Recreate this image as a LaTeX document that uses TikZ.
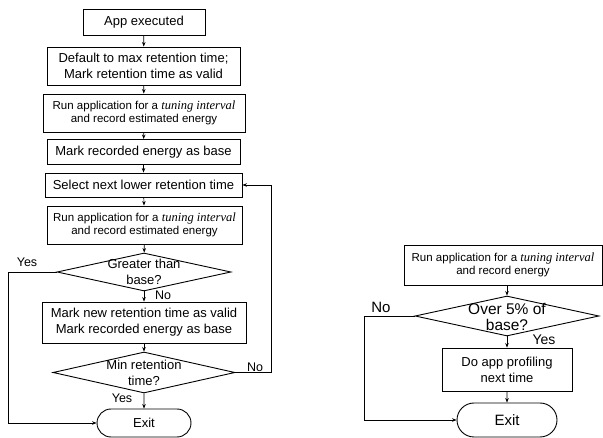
\documentclass[tikz,border=0pt]{standalone}
\usepackage{fontspec}
\setmainfont{Liberation Sans}
\newfontfamily\tiserif{Liberation Serif}
\usetikzlibrary{shapes.geometric,shapes.misc,arrows.meta}
\newcommand{\tuning}{{\tiserif\itshape\fontsize{12.5}{13}\selectfont tuning interval}}
\begin{document}
\begin{tikzpicture}[x=1pt,y=-1pt,
  box/.style={draw, line width=0.9pt, rectangle, inner sep=0pt, align=center},
  dia/.style={draw, line width=0.9pt, diamond, inner sep=0pt},
  term/.style={draw, line width=0.9pt, rounded rectangle, inner sep=0pt},
  txt/.style={inner sep=0pt, align=center},
  arr/.style={-{Stealth[length=4.5pt,width=3.5pt]}, line width=0.7pt},
  ln/.style={line width=0.7pt},
  big/.style={font=\fontsize{13}{16}\selectfont},
  small/.style={font=\fontsize{11.5}{13}\selectfont},
  huge/.style={font=\fontsize{15.5}{16}\selectfont}]
\useasboundingbox (0,0) rectangle (603,438);
% ---------- left chart ----------
\node[box,big,minimum width=122,minimum height=26] (app) at (144,22) {App executed};
\node[box,big,minimum width=193,minimum height=38] (def) at (143.5,66) {Default to max retention time;\\Mark retention time as valid};
\node[box,small,minimum width=202,minimum height=38] (run1) at (144,113) {Run application for a \tuning\\and record estimated energy};
\node[box,big,minimum width=193,minimum height=25] (mb) at (143.5,152) {Mark recorded energy as base};
\node[box,big,minimum width=197,minimum height=24] (sel) at (143.5,185) {Select next lower retention time};
\node[box,small,minimum width=195,minimum height=38] (run2) at (144.5,225) {Run application for a \tuning\\and record estimated energy};
\node[dia,minimum width=174,minimum height=38] (d1) at (144,272) {};
\node[txt,big] (d1t) at (144,272) {Greater than\\base?};
\node[box,big,minimum width=204,minimum height=41] (mn) at (144,322.5) {Mark new retention time as valid\\Mark recorded energy as base};
\node[dia,minimum width=182,minimum height=41] (d2) at (144,372.5) {};
\node[txt,big] (d2t) at (144,372.5) {Min retention\\time?};
\node[term,big,minimum width=94,minimum height=28] (ex1) at (144,423) {Exit};

\draw[arr] (app) -- (def);
\draw[arr] (def) -- (run1);
\draw[arr] (run1) -- (mb);
\draw[arr] (mb) -- (sel);
\draw[arr] (sel) -- (run2);
\draw[arr] (run2) -- (d1);
\draw[arr] (d1) -- (mn);
\draw[arr] (mn) -- (d2);
\draw[arr] (d2) -- (ex1);
\coordinate (yl) at (8,272);
\coordinate (nr) at (271,372.5);
\draw[arr] (d1.west) -- (yl) |- (ex1.west);
\draw[arr] (d2.east) -- (nr) |- (sel.east);
\node[txt,font=\fontsize{12.5}{13}\selectfont] (y1) at (27,262) {Yes};
\node[txt,font=\fontsize{12.5}{13}\selectfont] (n1) at (163,295) {No};
\node[txt,font=\fontsize{12.5}{13}\selectfont] (n2) at (255,367) {No};
\node[txt,font=\fontsize{12.5}{13}\selectfont] (y2) at (122,398) {Yes};
% ---------- right chart ----------
\node[box,small,minimum width=198,minimum height=40] (run3) at (503,265) {Run application for a \tuning\\and record energy};
\node[dia,minimum width=184,minimum height=40] (d3) at (507,316) {};
\node[txt,huge] (d3t) at (507,316.5) {Over 5\% of\\base?};
\node[box,big,minimum width=130,minimum height=43] (prof) at (507,369.5) {Do app profiling\\next time};
\node[term,font=\fontsize{15}{16}\selectfont,minimum width=100,minimum height=34] (ex2) at (507,420) {Exit};
\draw[arr] (d3.north |- run3.south) -- (d3.north);
\draw[arr] (d3) -- (prof);
\draw[arr] (prof) -- (ex2);
\coordinate (nl) at (364,316);
\draw[arr] (d3.west) -- (nl) |- (ex2.west);
\node[txt,font=\fontsize{15}{16}\selectfont] (n3) at (381,307) {No};
\node[txt,font=\fontsize{14}{16}\selectfont] (y3) at (544,340) {Yes};
\end{tikzpicture}
\end{document}
